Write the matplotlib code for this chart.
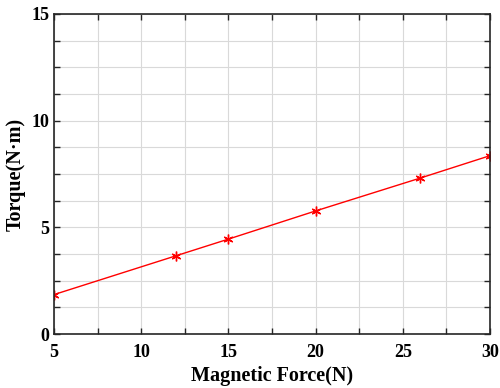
import matplotlib
matplotlib.use("Agg")
import matplotlib.pyplot as plt
from matplotlib.ticker import MultipleLocator

# data
force = [5, 12, 15, 20, 26, 30]
torque = [1.85, 3.67, 4.45, 5.77, 7.31, 8.36]

plt.rcParams["font.family"] = ["Liberation Serif", "DejaVu Serif"]
plt.rcParams["font.weight"] = "bold"

fig = plt.figure(figsize=(5.0, 3.88), dpi=100)
ax = fig.add_axes([0.108, 0.139, 0.872, 0.825])

ax.plot(force, torque, "-", color="red", lw=1.0,
        marker=(6, 2, 0), ms=7, mew=1.0, mec="red")

ax.set_xlim(5, 30)
ax.set_ylim(0, 15)
ax.xaxis.set_major_locator(MultipleLocator(5))
ax.xaxis.set_minor_locator(MultipleLocator(2.5))
ax.yaxis.set_major_locator(MultipleLocator(5))
ax.yaxis.set_minor_locator(MultipleLocator(1.25))
ax.grid(True, which="both", color="#d9d9d9", lw=0.8)
ax.set_axisbelow(True)
ax.tick_params(which="both", direction="in", top=True, right=True,
               length=4, width=1.0, colors="#262626")
ax.tick_params(axis="x", labelsize=13, pad=7.5)
ax.tick_params(axis="y", labelsize=13, pad=3.5)
for lab in ax.get_xticklabels() + ax.get_yticklabels():
    lab.set_fontweight("bold")
    lab.set_color("black")
for sp in ax.spines.values():
    sp.set_linewidth(1.2)
    sp.set_color("#262626")

ax.set_xlabel("Magnetic Force(N)", fontsize=14.5, fontweight="bold", labelpad=3)
ax.set_ylabel("Torque(N·m)", fontsize=14.5, fontweight="bold", labelpad=4)

fig.savefig("out.png", dpi=100)
